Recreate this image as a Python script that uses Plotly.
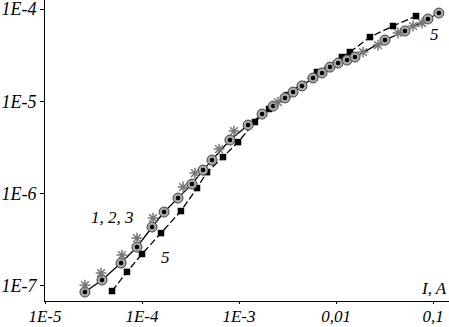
import plotly.graph_objects as go

# Series 1,2,3 (circles with dot)
circ_I = [2.58e-5, 3.87e-5, 6.08e-5, 8.87e-5, 1.27e-4, 1.69e-4, 2.35e-4, 3.27e-4, 4.26e-4,
          5.27e-4, 8.07e-4, 1.24e-3, 1.73e-3, 2.25e-3, 2.98e-3, 3.61e-3, 4.46e-3, 5.79e-3,
          7.18e-3, 8.67e-3, 1.05e-2, 1.30e-2, 1.57e-2, 3.20e-2, 5.14e-2, 8.87e-2, 0.115]
circ_V = [8.59e-8, 1.16e-7, 1.77e-7, 2.64e-7, 4.35e-7, 6.32e-7, 8.95e-7, 1.27e-6, 1.80e-6,
          2.31e-6, 3.81e-6, 5.53e-6, 7.28e-6, 8.89e-6, 1.09e-5, 1.26e-5, 1.47e-5, 1.79e-5,
          2.03e-5, 2.35e-5, 2.60e-5, 2.80e-5, 3.02e-5, 4.61e-5, 5.78e-5, 7.80e-5, 9.05e-5]

# asterisk series
ast_I = [2.58e-5, 3.78e-5, 6.22e-5, 8.87e-5, 1.30e-4, 2.65e-4, 3.51e-4, 6.22e-4, 8.87e-4,
         2.52e-3, 1.90e-2, 2.71e-2, 4.36e-2, 6.22e-2, 7.71e-2]
ast_V = [1.02e-7, 1.38e-7, 2.16e-7, 3.30e-7, 5.44e-7, 1.18e-6, 1.67e-6, 3.04e-6, 4.76e-6,
         9.82e-6, 3.42e-5, 4.07e-5, 5.50e-5, 6.55e-5, 7.05e-5]

# Series 5 (squares)
sq_I = [4.91e-5, 7.00e-5, 1.00e-4, 1.57e-4, 2.52e-4, 3.69e-4, 4.68e-4, 6.84e-4, 9.77e-4,
        1.46e-3, 2.04e-3, 3.13e-3, 6.37e-3, 1.15e-2, 1.39e-2, 2.24e-2, 3.87e-2, 6.68e-2]
sq_V = [8.81e-8, 1.42e-7, 2.22e-7, 3.74e-7, 6.48e-7, 1.15e-6, 1.71e-6, 2.49e-6, 3.62e-6,
        5.97e-6, 8.26e-6, 1.17e-5, 2.08e-5, 3.02e-5, 3.42e-5, 4.97e-5, 6.55e-5, 8.39e-5]

x_tickvals = [1e-5, 1e-4, 1e-3, 1e-2, 1e-1]
x_ticktext = ["1E-5", "1E-4", "1E-3", "0,01", "0,1"]
y_tickvals = [1e-7, 1e-6, 1e-5, 1e-4]
y_ticktext = ["1E-7", "1E-6", "1E-5", "1E-4"]

FONT = "Liberation Serif"

fig = go.Figure()
fig.add_trace(go.Scatter(x=sq_I, y=sq_V, mode="lines", cliponaxis=False,
                         line=dict(color="black", width=1.3, dash="7px,3px")))
fig.add_trace(go.Scatter(x=circ_I, y=circ_V, mode="lines", cliponaxis=False,
                         line=dict(color="black", width=1.3)))
fig.add_trace(go.Scatter(x=sq_I, y=sq_V, mode="markers", cliponaxis=False,
                         marker=dict(symbol="square", size=6.5, color="black")))
fig.add_trace(go.Scatter(x=circ_I, y=circ_V, mode="markers", cliponaxis=False,
                         marker=dict(symbol="circle", size=10, color="#a8a8a8",
                                     line=dict(color="#444", width=1))))
fig.add_trace(go.Scatter(x=circ_I, y=circ_V, mode="markers", cliponaxis=False,
                         marker=dict(symbol="circle", size=4.5, color="black")))
fig.add_trace(go.Scatter(x=ast_I, y=ast_V, mode="markers", cliponaxis=False,
                         marker=dict(symbol="asterisk-open", size=9, color="#777",
                                     line=dict(color="#777", width=1.5))))

ytickfont = dict(family=FONT, size=18, color="black", style="italic")
xtickfont = dict(family=FONT, size=17, color="black", style="italic")
annfont = dict(family=FONT, size=17, color="black", style="italic")


def ann(text, x, y):
    return dict(text=text, x=x, y=y, xref="paper", yref="paper", showarrow=False,
                xanchor="center", yanchor="middle", font=annfont)


fig.update_layout(
    width=449, height=327,
    margin=dict(l=45, r=0, t=0, b=26),
    paper_bgcolor="white", plot_bgcolor="white",
    showlegend=False,
    xaxis=dict(type="log", range=[-5, -0.835], tickvals=x_tickvals, ticktext=x_ticktext,
               ticks="outside", ticklen=2, tickcolor="black", showline=True,
               linecolor="black", linewidth=1, showgrid=False, zeroline=False,
               tickfont=xtickfont, automargin=False, ticklabeloverflow="allow",
               ticklabelstandoff=-2),
    yaxis=dict(type="log", range=[-7.163, -3.902], tickvals=y_tickvals, ticktext=y_ticktext,
               ticks="outside", ticklen=4, tickcolor="black", showline=True,
               linecolor="black", linewidth=1, showgrid=False, zeroline=False,
               tickfont=ytickfont, automargin=False, ticklabeloverflow="allow"),
    annotations=[
        ann("1, 2, 3", 0.168, 0.279),
        ann("5", 0.2995, 0.143),
        ann("5", 0.965, 0.884),
        ann("I, A", 0.963, 0.040),
    ],
)

fig.write_html("out.html", config={"displayModeBar": False},
               post_script="document.body.style.margin='0';document.body.style.padding='0';")
